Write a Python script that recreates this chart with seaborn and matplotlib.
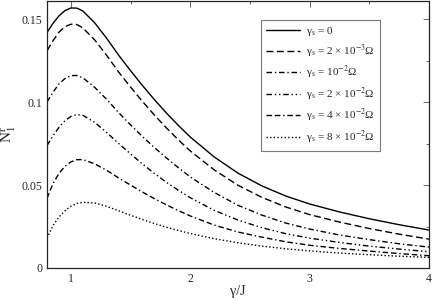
import matplotlib
matplotlib.use("Agg")
import matplotlib.pyplot as plt
import seaborn as sns
import pandas as pd
from matplotlib.ticker import MultipleLocator, FixedLocator

x_vals = [0.8, 0.85, 0.9, 0.95, 1.0, 1.05, 1.1, 1.2, 1.3, 1.4, 1.5, 1.6, 1.7,
          1.8, 1.9, 2.0, 2.2, 2.4, 2.6, 2.8, 3.0, 3.25, 3.5, 3.75, 4.0]

n_gs0 = [0.1420, 0.1475, 0.1520, 0.1552, 0.1568, 0.1567, 0.1550, 0.1478, 0.1385,
         0.1283, 0.1190, 0.1100, 0.1015, 0.0935, 0.0860, 0.0790, 0.0670, 0.0572,
         0.0495, 0.0434, 0.0386, 0.0338, 0.0297, 0.0261, 0.0229]
n_gs2e3 = [0.1310, 0.1370, 0.1422, 0.1455, 0.1470, 0.1468, 0.1448, 0.1375, 0.1282,
           0.1182, 0.1091, 0.1004, 0.0922, 0.0845, 0.0773, 0.0706, 0.0592, 0.0499,
           0.0426, 0.0368, 0.0322, 0.0277, 0.0238, 0.0204, 0.0174]
n_gs1e2 = [0.1001, 0.1059, 0.1110, 0.1142, 0.1160, 0.1161, 0.1147, 0.1089, 0.1017,
           0.0937, 0.0863, 0.0792, 0.0726, 0.0664, 0.0605, 0.0549, 0.0456, 0.0378,
           0.0319, 0.0271, 0.0235, 0.0199, 0.0171, 0.0146, 0.0126]
n_gs2e2 = [0.0738, 0.0797, 0.0848, 0.0888, 0.0914, 0.0925, 0.0921, 0.0878, 0.0817,
           0.0751, 0.0688, 0.0627, 0.0570, 0.0517, 0.0469, 0.0424, 0.0348, 0.0289,
           0.0243, 0.0207, 0.0180, 0.0154, 0.0132, 0.0114, 0.0098]
n_gs4e2 = [0.0420, 0.0509, 0.0570, 0.0613, 0.0640, 0.0653, 0.0654, 0.0628, 0.0589,
           0.0543, 0.0500, 0.0458, 0.0418, 0.0381, 0.0346, 0.0314, 0.0259, 0.0217,
           0.0186, 0.0158, 0.0137, 0.0118, 0.0102, 0.0087, 0.0074]
n_gs8e2 = [0.0180, 0.0255, 0.0307, 0.0345, 0.0372, 0.0389, 0.0396, 0.0392, 0.0372,
           0.0345, 0.0318, 0.0292, 0.0268, 0.0246, 0.0226, 0.0208, 0.0177, 0.0152,
           0.0132, 0.0116, 0.0103, 0.0090, 0.0080, 0.0071, 0.0064]

labels = [
    "γ$_\\mathrm{s}$ = 0",
    "γ$_\\mathrm{s}$ = 2 × 10$^{-3}$Ω",
    "γ$_\\mathrm{s}$ = 10$^{-2}$Ω",
    "γ$_\\mathrm{s}$ = 2 × 10$^{-2}$Ω",
    "γ$_\\mathrm{s}$ = 4 × 10$^{-2}$Ω",
    "γ$_\\mathrm{s}$ = 8 × 10$^{-2}$Ω",
]
series = [n_gs0, n_gs2e3, n_gs1e2, n_gs2e2, n_gs4e2, n_gs8e2]

x_ticks = [1, 2, 3, 4]
y_ticks = [0, 0.05, 0.1, 0.15]
y_tick_labels = ["0", "0.05", "0.1", "0.15"]

rows = []
for lab, ys in zip(labels, series):
    for xv, yv in zip(x_vals, ys):
        rows.append({"x": xv, "y": yv, "series": lab})
df = pd.DataFrame(rows)

sns.set_style("white")
plt.rcParams["font.family"] = ["Liberation Serif", "DejaVu Serif"]
plt.rcParams["mathtext.fontset"] = "stix"

dashes = {
    labels[0]: "",
    labels[1]: (5, 2.5),
    labels[2]: (4, 2, 1, 2),
    labels[3]: (4, 2, 1, 2, 1, 2),
    labels[4]: (4, 2, 4, 2, 1, 2),
    labels[5]: (1, 1.6),
}

fig = plt.figure(figsize=(4.33, 3.0), dpi=100)
ax = fig.add_axes([47 / 433, 1 - 268 / 300, 382 / 433, 267 / 300])

sns.lineplot(data=df, x="x", y="y", hue="series", style="series",
             palette=["black"] * 6, dashes=dashes, hue_order=labels,
             style_order=labels, linewidth=1.0, ax=ax, legend=True)

ax.set_xlim(0.8, 4.0)
ax.set_ylim(0, 0.161)
ax.xaxis.set_major_locator(FixedLocator(x_ticks))
ax.xaxis.set_minor_locator(MultipleLocator(0.5))
ax.yaxis.set_major_locator(FixedLocator(y_ticks))
ax.set_yticklabels(y_tick_labels)
ax.set_xticklabels([str(t) for t in x_ticks])
ax.yaxis.set_minor_locator(MultipleLocator(0.025))
ax.tick_params(which="both", direction="in", top=True, right=True,
               labelsize=8.5, width=0.6, color="0.3")
ax.tick_params(which="major", length=4)
ax.tick_params(which="minor", length=2)
for sp in ax.spines.values():
    sp.set_linewidth(0.9)
    sp.set_color("0.15")

ax.set_xlabel("γ/J", fontsize=10, labelpad=0)
ax.set_ylabel("N$_1^\\mathrm{r}$", fontsize=11, labelpad=2)

leg = ax.legend(loc="upper right", bbox_to_anchor=(0.872, 0.929),
                borderaxespad=0, fontsize=8, frameon=True, fancybox=False,
                handlelength=3.0, labelspacing=0.4, borderpad=0.45,
                handletextpad=0.6)
leg.get_frame().set_edgecolor("0.35")
leg.get_frame().set_linewidth(0.8)
for line in leg.get_lines():
    line.set_linewidth(1.0)

fig.savefig("out.png", dpi=100)
